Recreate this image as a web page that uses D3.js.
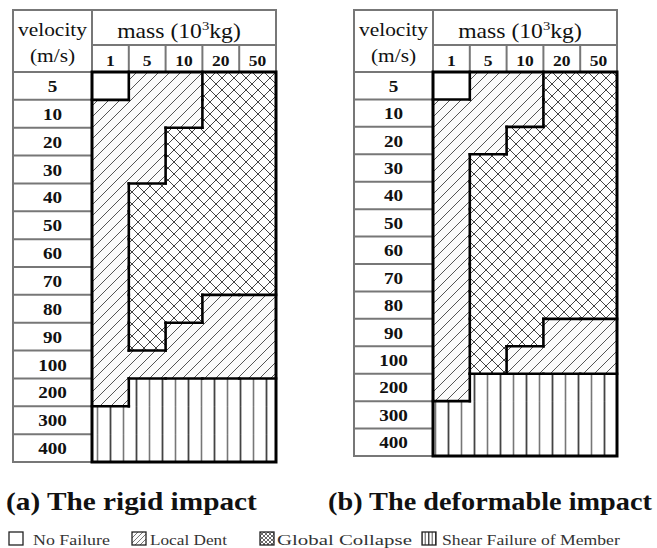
<!DOCTYPE html>
<head>
    <meta charset="utf-8">
    <title>Failure modes by velocity and mass</title>
    <script src="https://d3js.org/d3.v7.min.js"></script>
</head>

<body>
<svg id="chart" width="657" height="548"></svg>
</body>

<script>

    // ----- data -----
    var massLabels = ["1", "5", "10", "20", "50"]
    var velocityLabels = ["5", "10", "20", "30", "40", "50", "60", "70", "80", "90", "100", "200", "300", "400"]
    var categories = ["No Failure", "Local Dent", "Global Collapse", "Shear Failure of Member"]

    // 0 = no failure, 1 = local dent, 2 = global collapse, 3 = shear failure
    // one row per velocity, one column per mass
    var rigidGrid = [
        [0, 1, 1, 2, 2],
        [1, 1, 1, 2, 2],
        [1, 1, 2, 2, 2],
        [1, 1, 2, 2, 2],
        [1, 2, 2, 2, 2],
        [1, 2, 2, 2, 2],
        [1, 2, 2, 2, 2],
        [1, 2, 2, 2, 2],
        [1, 2, 2, 1, 1],
        [1, 2, 1, 1, 1],
        [1, 1, 1, 1, 1],
        [1, 3, 3, 3, 3],
        [3, 3, 3, 3, 3],
        [3, 3, 3, 3, 3]
    ]
    var deformGrid = [
        [0, 1, 1, 2, 2],
        [1, 1, 1, 2, 2],
        [1, 1, 2, 2, 2],
        [1, 2, 2, 2, 2],
        [1, 2, 2, 2, 2],
        [1, 2, 2, 2, 2],
        [1, 2, 2, 2, 2],
        [1, 2, 2, 2, 2],
        [1, 2, 2, 2, 2],
        [1, 2, 2, 1, 1],
        [1, 2, 1, 1, 1],
        [1, 3, 3, 3, 3],
        [3, 3, 3, 3, 3],
        [3, 3, 3, 3, 3]
    ]
    var captions = ["(a) The rigid impact", "(b) The deformable impact"]

    // ----- layout -----
    var serif = "'Liberation Serif', 'Times New Roman', Times, serif"
    var gridColor = "#777"
    var legendX = [9, 132, 260, 422]
    var legendTextX = [33, 150, 277, 442]
    var legendW = [77, 77, 135, 178]
    var captionW = [251, 324]

    var svg = d3.select("#chart")
    svg.append("rect").attr("width", 657).attr("height", 548).attr("fill", "white")
    var defs = svg.append("defs")

    function makePatterns(prefix, s1, s2, s3, sw) {
        var p = defs.append("pattern").attr("id", prefix + "0").attr("patternUnits", "userSpaceOnUse")
            .attr("width", 10).attr("height", 10)
        p.append("rect").attr("width", 10).attr("height", 10).attr("fill", "white")

        p = defs.append("pattern").attr("id", prefix + "1").attr("patternUnits", "userSpaceOnUse")
            .attr("width", s1).attr("height", s1)
        p.append("rect").attr("width", s1).attr("height", s1).attr("fill", "#fbfbfb")
        p.append("path").attr("d", "M-1,1 l2,-2 M0," + s1 + " l" + s1 + ",-" + s1 + " M" + (s1 - 1) + "," + (s1 + 1) + " l2,-2")
            .attr("stroke", "#555").attr("stroke-width", sw)

        p = defs.append("pattern").attr("id", prefix + "2").attr("patternUnits", "userSpaceOnUse")
            .attr("width", s2).attr("height", s2)
        p.append("rect").attr("width", s2).attr("height", s2).attr("fill", "white")
        p.append("path").attr("d", "M0,0 L" + s2 + "," + s2 + " M" + s2 + ",0 L0," + s2)
            .attr("stroke", "#444").attr("stroke-width", sw)

        p = defs.append("pattern").attr("id", prefix + "3").attr("patternUnits", "userSpaceOnUse")
            .attr("width", s3 * 2).attr("height", 10)
        p.append("rect").attr("width", s3 * 2).attr("height", 10).attr("fill", "white")
        p.append("line").attr("x1", s3 / 2).attr("x2", s3 / 2).attr("y1", 0).attr("y2", 10)
            .attr("stroke", "#444").attr("stroke-width", sw * 1.8)
        p.append("line").attr("x1", s3 * 1.5).attr("x2", s3 * 1.5).attr("y1", 0).attr("y2", 10)
            .attr("stroke", "#777").attr("stroke-width", sw * 1.6)
    }
    makePatterns("pat", 11, 12, 13, 1)
    makePatterns("leg", 5, 4, 3.5, 0.8)

    // sideways stretch of the source text, found from the width of "velocity" (69px at 19px size)
    var probe = svg.append("text").style("font-family", serif).style("font-size", "19px").text("velocity")
    var stretch = 69 / probe.node().getComputedTextLength()
    probe.remove()

    function addText(g, x, y, str, size, weight, anchor, sx) {
        return g.append("text")
            .attr("transform", "translate(" + x + "," + y + ") scale(" + (sx || stretch) + ",1)")
            .attr("text-anchor", anchor || "middle")
            .style("font-family", serif)
            .style("font-size", size + "px")
            .style("font-weight", weight || "normal")
            .attr("fill", "#111")
            .text(str)
    }

    // left-anchored text squeezed to a given width
    function fitText(g, x, y, str, size, weight, width) {
        var t = addText(g, x, y, str, size, weight, "start", 1)
        var w = t.node().getComputedTextLength()
        t.attr("transform", "translate(" + x + "," + y + ") scale(" + (width / w) + ",1)")
        return t
    }

    function drawTable(grid, left, bottom, caption, captionX, capW) {
        var g = svg.append("g")
        var top = 10, midLine = 45, headBottom = 72
        var velRight = left + 79, right = velRight + 184

        var x = d3.scaleBand().domain(massLabels).range([velRight, right])
        var y = d3.scaleBand().domain(velocityLabels).range([headBottom, bottom])

        var cells = []
        grid.forEach(function(row, i) {
            row.forEach(function(c, j) {
                cells.push({v: velocityLabels[i], m: massLabels[j], c: c, i: i, j: j})
            })
        })

        g.selectAll(".cell")
            .data(cells)
            .enter().append("rect")
            .attr("class", "cell")
            .attr("x", function(d) { return x(d.m) })
            .attr("y", function(d) { return y(d.v) })
            .attr("width", x.bandwidth() + 0.5)
            .attr("height", y.bandwidth() + 0.5)
            .attr("fill", function(d) { return "url(#pat" + d.c + ")" })

        // gray table lines
        var grayLines = [
            [left, top, right, top],
            [left, top, left, bottom],
            [velRight, top, velRight, headBottom],
            [right, top, right, headBottom],
            [velRight, midLine, right, midLine],
            [left, headBottom, velRight, headBottom],
            [left, bottom, velRight, bottom]
        ]
        massLabels.slice(1).forEach(function(m) {
            grayLines.push([x(m), midLine, x(m), headBottom])
        })
        velocityLabels.slice(1).forEach(function(v) {
            grayLines.push([left, y(v), velRight, y(v)])
        })
        g.selectAll(".gl")
            .data(grayLines)
            .enter().append("line")
            .attr("class", "gl")
            .attr("x1", function(d) { return d[0] }).attr("y1", function(d) { return d[1] })
            .attr("x2", function(d) { return d[2] }).attr("y2", function(d) { return d[3] })
            .attr("stroke", gridColor).attr("stroke-width", 2).attr("stroke-linecap", "square")

        // thick borders where the failure mode changes
        var edges = []
        cells.forEach(function(d) {
            if (d.j < massLabels.length - 1 && grid[d.i][d.j + 1] != d.c) {
                var xe = x(massLabels[d.j + 1])
                edges.push([xe, y(d.v), xe, y(d.v) + y.bandwidth()])
            }
            if (d.i < velocityLabels.length - 1 && grid[d.i + 1][d.j] != d.c) {
                var ye = y(velocityLabels[d.i + 1])
                edges.push([x(d.m), ye, x(d.m) + x.bandwidth(), ye])
            }
        })
        g.selectAll(".edge")
            .data(edges)
            .enter().append("line")
            .attr("class", "edge")
            .attr("x1", function(d) { return d[0] }).attr("y1", function(d) { return d[1] })
            .attr("x2", function(d) { return d[2] }).attr("y2", function(d) { return d[3] })
            .attr("stroke", "#000").attr("stroke-width", 2.6).attr("stroke-linecap", "square")

        g.append("rect")
            .attr("x", velRight).attr("y", headBottom)
            .attr("width", right - velRight).attr("height", bottom - headBottom)
            .attr("fill", "none").attr("stroke", "#000").attr("stroke-width", 3)

        // header texts
        var vc = (left + velRight) / 2
        addText(g, vc, 36, "velocity", 19)
        addText(g, vc, 62, "(m/s)", 19)

        var mt = addText(g, (velRight + right) / 2 - 5, 38, "", 21)
        mt.append("tspan").text("mass (10")
        mt.append("tspan").text("3").style("font-size", "13px").attr("dy", -8)
        mt.append("tspan").text("kg)").attr("dy", 8)

        massLabels.forEach(function(m) {
            addText(g, x(m) + x.bandwidth() / 2, 66, m, 15.5, "bold")
        })
        velocityLabels.forEach(function(v) {
            addText(g, vc, y(v) + y.bandwidth() / 2 + 6, v, 17, "bold")
        })

        fitText(g, captionX, 510, caption, 25, "bold", capW)
    }

    drawTable(rigidGrid, 13, 462, captions[0], 6, captionW[0])
    drawTable(deformGrid, 354, 456, captions[1], 328, captionW[1])

    // legend
    var legend = svg.append("g")
    categories.forEach(function(c, i) {
        legend.append("rect")
            .attr("x", legendX[i]).attr("y", 532)
            .attr("width", 14).attr("height", 13)
            .attr("fill", "url(#leg" + i + ")")
            .attr("stroke", "#222").attr("stroke-width", 1.3)
        fitText(legend, legendTextX[i], 545, c, 14.5, "normal", legendW[i]).attr("fill", "#333")
    })

</script>

<style>
    html, body {
        margin: 0;
        background: white;
    }
    svg {
        display: block;
    }
</style>

</html>
